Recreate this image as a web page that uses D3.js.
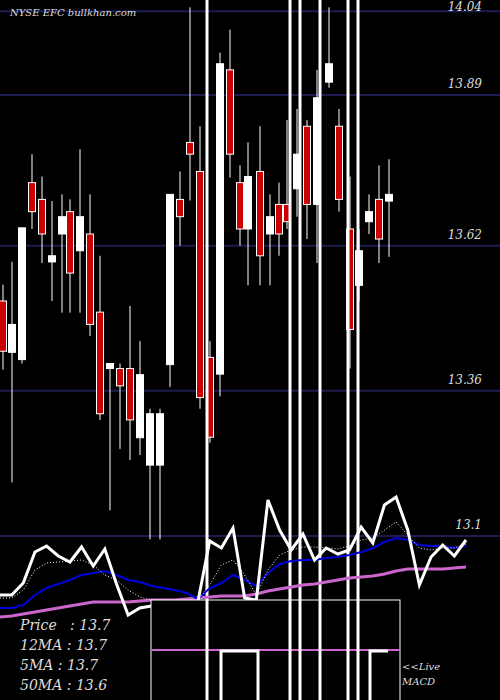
<!DOCTYPE html><html><head><meta charset="utf-8"><script src="https://cdn.jsdelivr.net/npm/d3@7"></script>
<style>body{margin:0;background:#000}</style></head><body><svg id="c" width="500" height="700"></svg><script>
const priceTicks=[14.04,13.89,13.62,13.36,13.1];
const tickLabels=["14.04","13.89","13.62","13.36","13.1"];
// candles: [open, high, low, close]
const opens =[13.521,13.429,13.416,13.733,13.703,13.591,13.641,13.681,13.611,13.641,13.501,13.400,13.400,13.400,13.276,13.227,13.227,13.407,13.703,13.805,13.753,13.420,13.390,13.935,13.733,13.650,13.753,13.641,13.694,13.694,13.722,13.834,13.694,13.913,13.834,13.650,13.549,13.663,13.703,13.700];
const highs =[13.55,13.591,13.652,13.784,13.744,13.700,13.712,13.703,13.793,13.712,13.602,13.409,13.409,13.512,13.449,13.328,13.328,13.712,13.753,14.047,13.834,13.449,13.966,14.007,13.764,13.805,13.834,13.712,13.733,13.845,13.865,13.845,13.935,14.047,13.865,13.744,13.650,13.712,13.764,13.775];
const lows  =[13.398,13.196,13.409,13.650,13.589,13.521,13.500,13.500,13.500,13.458,13.308,13.146,13.256,13.236,13.245,13.094,13.094,13.367,13.620,13.701,13.328,13.267,13.350,13.742,13.620,13.549,13.549,13.549,13.602,13.650,13.672,13.632,13.589,13.903,13.681,13.400,13.521,13.641,13.589,13.600];
const closes=[13.431,13.479,13.652,13.681,13.641,13.602,13.672,13.571,13.672,13.479,13.319,13.409,13.369,13.308,13.389,13.319,13.319,13.712,13.672,13.784,13.348,13.277,13.946,13.784,13.650,13.744,13.602,13.672,13.641,13.663,13.784,13.694,13.885,13.946,13.703,13.470,13.611,13.681,13.632,13.712];
const candleX=[3,12,22,32,42,52,62,70,80,90,100,110,120,130,140,150,160,170,180,190,200,210,220,230,240,248,260,270,279,287,297,307,317,329,339,350,359,369,379,389];
// indicator pane lines (units: pane value)
const priceLine=[595,595,583,552,546,556,562,547,566,549,584,615,608,606,606,605,603,601,541,548,528,598,600,500,530,550,534,560,548,554,550,527,543,505,497,530,585,557,545,556,540];
const ma5=[598,598,590,570,563,562,561,560,565,575,580,590,597,600,601,602,602,600,585,565,560,575,595,570,555,550,547,547,548,549,546,540,538,530,522,535,548,550,548,548,544];
const ma12=[608,608,605,595,588,584,580,575,573,571,575,580,582,586,588,590,593,599,588,583,575,580,586,573,564,561,560,560,558,557,555,552,548,542,538,540,545,546,546,548,546];
const ma50=[617,616,614,612,610,608,606,604,602,602,602,602,601,600,600,600,599,598,597,596,596,596,594,591,589,587,585,584,582,580,578,577,576,574,571,569,569,569,569,568,567];
const macdSteps=[[221,651],[258,651],[258,700]];
const spikes=[207,290,300,320,348,358];
const legend=["Price   : 13.7","12MA : 13.7","5MA : 13.7","50MA : 13.6"];

const svg=d3.select("#c");
svg.append("rect").attr("width",500).attr("height",700).attr("fill","#000");
const y=d3.scaleLinear().domain([13.1,13.89]).range([536,95]);
const x=d3.scaleLinear().domain([0,1]).range([0,1]);
const ly=d3.scaleLinear().domain([0,700]).range([0,700]);
const lx=d3.scaleLinear().domain([0,40]).range([0,466]);
priceTicks.forEach((t,i)=>{
 svg.append("line").attr("x1",0).attr("x2",500).attr("y1",y(t)).attr("y2",y(t)).attr("stroke","#1c1c50").attr("stroke-width",2);
 svg.append("text").attr("x",482).attr("y",Math.max(11,y(t)-7)).attr("text-anchor","end").attr("fill","#ddd").attr("font-family","DejaVu Serif").attr("font-style","italic").attr("font-size",12).text(tickLabels[i]);
});
svg.append("text").attr("x",10).attr("y",16).attr("fill","#ddd").attr("font-family","DejaVu Serif").attr("font-style","italic").attr("font-size",10).text("NYSE EFC bullkhan.com");
const g=svg.append("g");
opens.forEach((o,i)=>{
 const cx=x(candleX[i]),c=closes[i],up=c>=o;
 g.append("line").attr("x1",cx).attr("x2",cx).attr("y1",y(highs[i])).attr("y2",y(lows[i])).attr("stroke","#fff").attr("stroke-width",1);
 const top=y(Math.max(o,c)),bot=y(Math.min(o,c));
 g.append("rect").attr("x",cx-3.5).attr("width",7).attr("y",top).attr("height",Math.max(2,bot-top)).attr("fill",up?"#fff":"#cc0000").attr("stroke","#fff").attr("stroke-width",1);
});
spikes.forEach(s=>svg.append("line").attr("x1",x(s)).attr("x2",x(s)).attr("y1",0).attr("y2",700).attr("stroke","#fff").attr("stroke-width",3));
const line=d3.line().x((d,i)=>lx(i)).y(d=>ly(d));
svg.append("path").attr("d",line(ma50)).attr("fill","none").attr("stroke","#cc66cc").attr("stroke-width",3);
svg.append("path").attr("d",line(ma12)).attr("fill","none").attr("stroke","#0000dd").attr("stroke-width",2);
svg.append("path").attr("d",line(ma5)).attr("fill","none").attr("stroke","#fff").attr("stroke-width",1).attr("stroke-dasharray","1,2");
svg.append("path").attr("d",line(priceLine)).attr("fill","none").attr("stroke","#fff").attr("stroke-width",3);
svg.append("rect").attr("x",151).attr("y",600).attr("width",249).attr("height",102).attr("fill","#000").attr("stroke","#fff").attr("stroke-width",1);
svg.append("line").attr("x1",151).attr("x2",400).attr("y1",650).attr("y2",650).attr("stroke","#cc66cc").attr("stroke-width",2);
const sl=d3.line().x(d=>x(d[0])).y(d=>ly(d[1]));
svg.append("path").attr("d",sl([[221,700],...macdSteps])).attr("fill","none").attr("stroke","#fff").attr("stroke-width",3);
svg.append("path").attr("d",sl([[370,700],[370,651],[388,651]])).attr("fill","none").attr("stroke","#fff").attr("stroke-width",3);
spikes.forEach(s=>svg.append("line").attr("x1",x(s)).attr("x2",x(s)).attr("y1",600).attr("y2",700).attr("stroke","#fff").attr("stroke-width",3));
legend.forEach((t,i)=>svg.append("text").attr("x",20).attr("y",630+i*20).attr("fill","#ddd").attr("font-family","DejaVu Serif").attr("font-style","italic").attr("font-size",14).attr("xml:space","preserve").text(t));
svg.append("text").attr("x",402).attr("y",670).attr("fill","#ddd").attr("font-family","DejaVu Serif").attr("font-style","italic").attr("font-size",10).text("<<Live");
svg.append("text").attr("x",402).attr("y",685).attr("fill","#ddd").attr("font-family","DejaVu Serif").attr("font-style","italic").attr("font-size",10).text("MACD");
</script></body></html>
